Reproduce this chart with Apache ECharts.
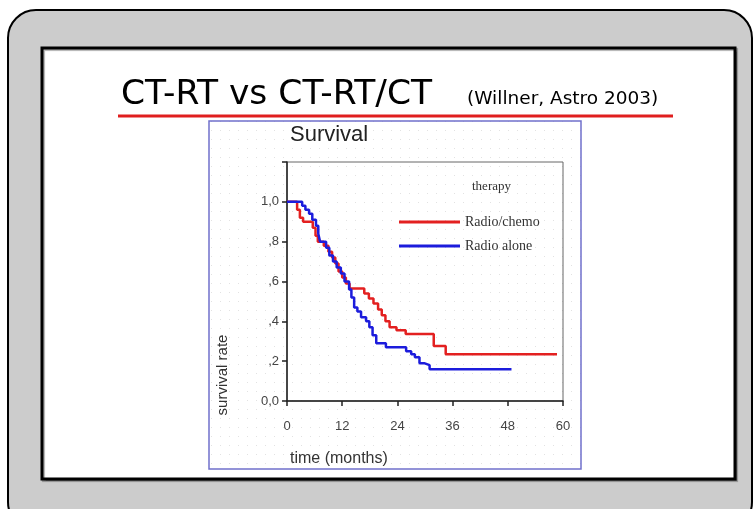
<!DOCTYPE html>
<html>
<head>
<meta charset="utf-8">
<script src="https://cdn.jsdelivr.net/npm/echarts@6/dist/echarts.min.js"></script>
<style>html,body{margin:0;padding:0;background:#fff;}#c{width:753px;height:509px;}</style>
</head>
<body>
<div id="c"></div>
<script>
// ---- data ----
var xTicks = [0, 12, 24, 36, 48, 60];
var yTickLabels = ["0,0", ",2", ",4", ",6", ",8", "1,0", ""];
var seriesNames = ["Radio/chemo", "Radio alone"];
var radioChemoTime = [0, 2.2, 2.8, 3.5, 5.6, 6.2, 6.7, 8, 9, 9.8, 10.5, 11.2, 12, 12.8, 13.6, 16.8, 17.8, 18.8, 19.8, 20.6, 21.4, 22.3, 23.8, 25.8, 31.9, 34.5, 58.7];
var radioChemoSurv = [1.0, 0.96, 0.92, 0.90, 0.87, 0.83, 0.80, 0.78, 0.75, 0.72, 0.69, 0.65, 0.62, 0.59, 0.565, 0.54, 0.515, 0.49, 0.46, 0.43, 0.40, 0.37, 0.355, 0.337, 0.276, 0.235, 0.235];
var radioAloneTime = [0, 3.3, 4, 4.8, 5.5, 6.3, 6.8, 7.2, 8.5, 9.2, 10, 10.8, 11.7, 12.5, 13.5, 14, 14.6, 15.3, 16.1, 17.2, 17.9, 18.6, 19.4, 21.5, 25.9, 27, 27.8, 28.8, 29.8, 31, 48.8];
var radioAloneSurv = [1.0, 0.98, 0.96, 0.94, 0.91, 0.88, 0.84, 0.80, 0.77, 0.73, 0.70, 0.67, 0.64, 0.60, 0.56, 0.52, 0.47, 0.45, 0.42, 0.40, 0.37, 0.33, 0.29, 0.27, 0.25, 0.235, 0.22, 0.19, 0.18, 0.16, 0.16];

function pairs(t, s) { return t.map(function (v, i) { return [v, s[i]]; }); }

// dotted background pattern
var pc = document.createElement('canvas');
pc.width = 9; pc.height = 9;
var pctx = pc.getContext('2d');
pctx.fillStyle = '#ffffff'; pctx.fillRect(0, 0, 9, 9);
pctx.fillStyle = '#e2e2e2'; pctx.fillRect(4, 4, 1, 1);

var chart = echarts.init(document.getElementById('c'), null, { renderer: 'canvas' });
chart.setOption({
  animation: false,
  backgroundColor: '#ffffff',
  graphic: [
    { type: 'rect', z: -10, shape: { x: 8, y: 10, width: 744, height: 520, r: 28 },
      style: { fill: '#cccccc', stroke: '#000', lineWidth: 2 } },
    { type: 'rect', z: -9, shape: { x: 42, y: 48, width: 693, height: 431 },
      style: { fill: '#ffffff', stroke: '#000', lineWidth: 3, shadowColor: 'rgba(0,0,0,0.3)', shadowOffsetX: 1.5, shadowOffsetY: 1.5, shadowBlur: 1 } },
    { type: 'text', z: -8, left: 121, top: 78,
      style: { text: 'CT-RT vs CT-RT/CT', font: '34.5px "DejaVu Sans"', fill: '#000' } },
    { type: 'text', z: -8, left: 467, top: 90,
      style: { text: '(Willner, Astro 2003)', font: '18.5px "DejaVu Sans"', fill: '#000' } },
    { type: 'line', z: -8, shape: { x1: 118, y1: 116, x2: 673, y2: 116 },
      style: { stroke: '#e01e1e', lineWidth: 3 } },
    { type: 'rect', z: -7, shape: { x: 209, y: 121, width: 372, height: 348 },
      style: { fill: { image: pc, repeat: 'repeat' }, stroke: '#7070cc', lineWidth: 1.5 } },
    { type: 'text', z: 5, left: 290, top: 124,
      style: { text: 'Survival', font: '22px "Liberation Sans"', fill: '#222' } },
    { type: 'text', z: 5, left: 290, top: 451,
      style: { text: 'time (months)', font: '16px "Liberation Sans"', fill: '#333' } },
    { type: 'text', z: 5, x: 223, y: 375, rotation: Math.PI / 2,
      style: { text: 'survival rate', font: '15px "Liberation Sans"', fill: '#333', align: 'center', verticalAlign: 'middle' } },
    { type: 'text', z: 5, left: 472, top: 180,
      style: { text: 'therapy', font: '13px "Liberation Serif"', fill: '#333' } }
  ],
  grid: { left: 287, top: 162, width: 276, height: 239, show: true, borderColor: '#666', borderWidth: 1, backgroundColor: 'transparent' },
  legend: {
    orient: 'vertical', left: 394, top: 210, itemWidth: 61, itemHeight: 3, itemGap: 10,
    icon: 'rect',
    data: seriesNames,
    textStyle: { fontFamily: 'Liberation Serif', fontSize: 14, color: '#333' }
  },
  xAxis: {
    type: 'value', min: 0, max: 60, interval: 12,
    axisLine: { show: true, lineStyle: { color: '#222', width: 1.5 } },
    axisTick: { show: true, length: 5, lineStyle: { color: '#222', width: 1.5 } },
    axisLabel: { margin: 19, fontFamily: 'Liberation Sans', fontSize: 13, color: '#444',
      formatter: function (v) { return xTicks.indexOf(v) >= 0 ? String(v) : ''; } },
    splitLine: { show: false }
  },
  yAxis: {
    type: 'value', min: 0, max: 1.2, interval: 0.2,
    axisLine: { show: true, lineStyle: { color: '#222', width: 1.5 } },
    axisTick: { show: true, length: 5, lineStyle: { color: '#222', width: 1.5 } },
    axisLabel: { margin: 8, fontFamily: 'Liberation Sans', fontSize: 13, color: '#444',
      formatter: function (v) { return yTickLabels[Math.round(v / 0.2)]; } },
    splitLine: { show: false }
  },
  series: [
    { name: seriesNames[0], type: 'line', step: 'end', symbol: 'none', z: 3,
      data: pairs(radioChemoTime, radioChemoSurv),
      lineStyle: { color: '#e32020', width: 2.5 }, itemStyle: { color: '#e32020' } },
    { name: seriesNames[1], type: 'line', step: 'end', symbol: 'none', z: 4,
      data: pairs(radioAloneTime, radioAloneSurv),
      lineStyle: { color: '#1c1cdc', width: 2.5 }, itemStyle: { color: '#1c1cdc' } }
  ]
});
</script>
</body>
</html>
